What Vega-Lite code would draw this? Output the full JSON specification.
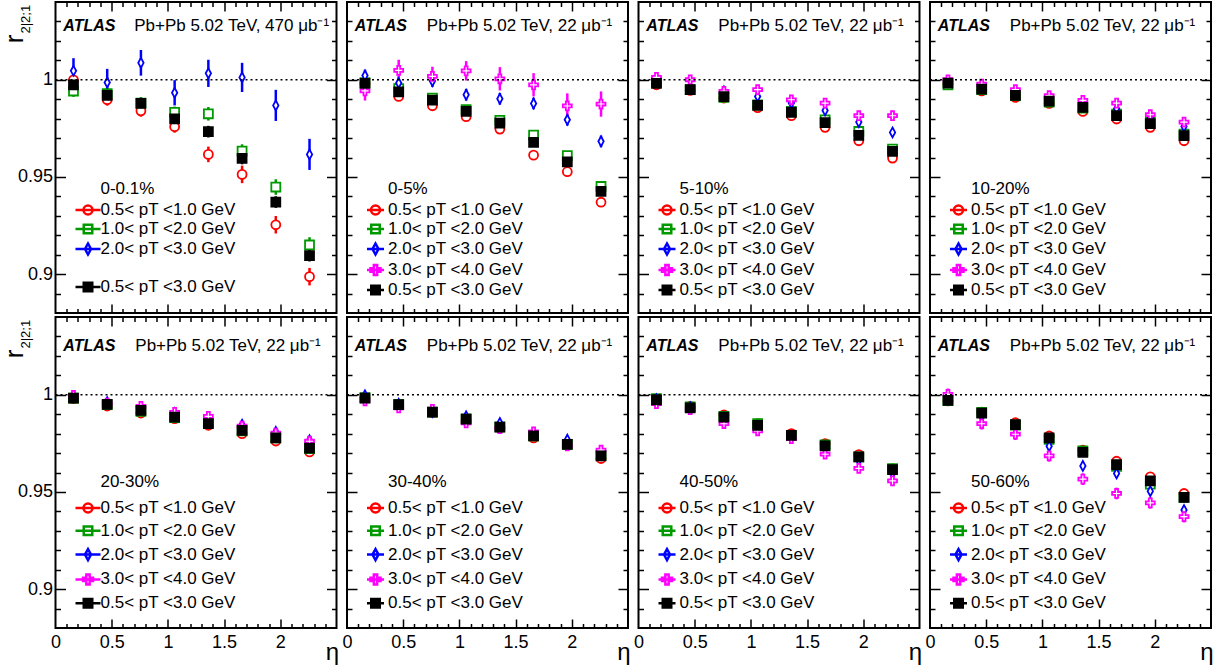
{
"$schema":"https://vega.github.io/schema/vega-lite/v6.json",
"background":"white",
"padding":{"left":0.5,"top":0,"right":5,"bottom":2},
"bounds":"flush",
"columns":4,
"spacing":{"row":4,"column":10.5},
"data":{"values":[
{"c":"p1","s":"s1","x":0.16,"r":1.0,"e":0.003},{"c":"p1","s":"s1","x":0.46,"r":0.9897,"e":0.003},{"c":"p1","s":"s1","x":0.76,"r":0.984,"e":0.003},{"c":"p1","s":"s1","x":1.06,"r":0.9758,"e":0.003},{"c":"p1","s":"s1","x":1.36,"r":0.9616,"e":0.004},{"c":"p1","s":"s1","x":1.66,"r":0.9513,"e":0.0045},{"c":"p1","s":"s1","x":1.96,"r":0.9254,"e":0.0045},{"c":"p1","s":"s1","x":2.26,"r":0.8987,"e":0.0045},
{"c":"p1","s":"s2","x":0.16,"r":0.9942,"e":0.003},{"c":"p1","s":"s2","x":0.46,"r":0.9928,"e":0.003},{"c":"p1","s":"s2","x":0.76,"r":0.988,"e":0.003},{"c":"p1","s":"s2","x":1.06,"r":0.9832,"e":0.003},{"c":"p1","s":"s2","x":1.36,"r":0.9825,"e":0.0035},{"c":"p1","s":"s2","x":1.66,"r":0.9633,"e":0.0035},{"c":"p1","s":"s2","x":1.96,"r":0.9448,"e":0.004},{"c":"p1","s":"s2","x":2.26,"r":0.915,"e":0.004},
{"c":"p1","s":"s3","x":0.16,"r":1.0046,"e":0.0065},{"c":"p1","s":"s3","x":0.46,"r":0.9986,"e":0.007},{"c":"p1","s":"s3","x":0.76,"r":1.0087,"e":0.0066},{"c":"p1","s":"s3","x":1.06,"r":0.9933,"e":0.0065},{"c":"p1","s":"s3","x":1.36,"r":1.0033,"e":0.007},{"c":"p1","s":"s3","x":1.66,"r":1.0012,"e":0.0075},{"c":"p1","s":"s3","x":1.96,"r":0.9868,"e":0.008},{"c":"p1","s":"s3","x":2.26,"r":0.9616,"e":0.008},
{"c":"p1","s":"s5","x":0.16,"r":0.9974,"e":0.003},{"c":"p1","s":"s5","x":0.46,"r":0.9919,"e":0.003},{"c":"p1","s":"s5","x":0.76,"r":0.9878,"e":0.003},{"c":"p1","s":"s5","x":1.06,"r":0.9799,"e":0.003},{"c":"p1","s":"s5","x":1.36,"r":0.9733,"e":0.003},{"c":"p1","s":"s5","x":1.66,"r":0.9595,"e":0.003},{"c":"p1","s":"s5","x":1.96,"r":0.9371,"e":0.003},{"c":"p1","s":"s5","x":2.26,"r":0.9095,"e":0.003},
{"c":"p2","s":"s1","x":0.16,"r":0.998,"e":0.001},{"c":"p2","s":"s1","x":0.46,"r":0.9914,"e":0.001},{"c":"p2","s":"s1","x":0.76,"r":0.9866,"e":0.001},{"c":"p2","s":"s1","x":1.06,"r":0.981,"e":0.001},{"c":"p2","s":"s1","x":1.36,"r":0.9746,"e":0.001},{"c":"p2","s":"s1","x":1.66,"r":0.9612,"e":0.001},{"c":"p2","s":"s1","x":1.96,"r":0.9527,"e":0.001},{"c":"p2","s":"s1","x":2.26,"r":0.937,"e":0.001},
{"c":"p2","s":"s2","x":0.16,"r":0.9985,"e":0.001},{"c":"p2","s":"s2","x":0.46,"r":0.9954,"e":0.001},{"c":"p2","s":"s2","x":0.76,"r":0.9906,"e":0.001},{"c":"p2","s":"s2","x":1.06,"r":0.9846,"e":0.001},{"c":"p2","s":"s2","x":1.36,"r":0.9791,"e":0.001},{"c":"p2","s":"s2","x":1.66,"r":0.9715,"e":0.001},{"c":"p2","s":"s2","x":1.96,"r":0.961,"e":0.001},{"c":"p2","s":"s2","x":2.26,"r":0.9451,"e":0.001},
{"c":"p2","s":"s3","x":0.16,"r":1.0022,"e":0.003},{"c":"p2","s":"s3","x":0.46,"r":0.9983,"e":0.003},{"c":"p2","s":"s3","x":0.76,"r":0.9993,"e":0.003},{"c":"p2","s":"s3","x":1.06,"r":0.9923,"e":0.003},{"c":"p2","s":"s3","x":1.36,"r":0.9902,"e":0.003},{"c":"p2","s":"s3","x":1.66,"r":0.9878,"e":0.003},{"c":"p2","s":"s3","x":1.96,"r":0.9794,"e":0.003},{"c":"p2","s":"s3","x":2.26,"r":0.9683,"e":0.003},
{"c":"p2","s":"s4","x":0.16,"r":0.9943,"e":0.005},{"c":"p2","s":"s4","x":0.46,"r":1.0048,"e":0.0055},{"c":"p2","s":"s4","x":0.76,"r":1.0017,"e":0.005},{"c":"p2","s":"s4","x":1.06,"r":1.0046,"e":0.005},{"c":"p2","s":"s4","x":1.36,"r":1.0005,"e":0.006},{"c":"p2","s":"s4","x":1.66,"r":0.9974,"e":0.006},{"c":"p2","s":"s4","x":1.96,"r":0.9865,"e":0.0065},{"c":"p2","s":"s4","x":2.26,"r":0.9875,"e":0.0065},
{"c":"p2","s":"s5","x":0.16,"r":0.9981,"e":0.001},{"c":"p2","s":"s5","x":0.46,"r":0.9937,"e":0.001},{"c":"p2","s":"s5","x":0.76,"r":0.9895,"e":0.001},{"c":"p2","s":"s5","x":1.06,"r":0.9837,"e":0.001},{"c":"p2","s":"s5","x":1.36,"r":0.9777,"e":0.001},{"c":"p2","s":"s5","x":1.66,"r":0.9678,"e":0.001},{"c":"p2","s":"s5","x":1.96,"r":0.9578,"e":0.001},{"c":"p2","s":"s5","x":2.26,"r":0.9426,"e":0.001},
{"c":"p3","s":"s1","x":0.16,"r":0.9974,"e":0.0008},{"c":"p3","s":"s1","x":0.46,"r":0.9945,"e":0.0008},{"c":"p3","s":"s1","x":0.76,"r":0.9906,"e":0.0008},{"c":"p3","s":"s1","x":1.06,"r":0.9856,"e":0.0008},{"c":"p3","s":"s1","x":1.36,"r":0.9815,"e":0.0008},{"c":"p3","s":"s1","x":1.66,"r":0.9755,"e":0.0008},{"c":"p3","s":"s1","x":1.96,"r":0.9686,"e":0.0008},{"c":"p3","s":"s1","x":2.26,"r":0.9597,"e":0.0008},
{"c":"p3","s":"s2","x":0.16,"r":0.9986,"e":0.0008},{"c":"p3","s":"s2","x":0.46,"r":0.9949,"e":0.0008},{"c":"p3","s":"s2","x":0.76,"r":0.9909,"e":0.0008},{"c":"p3","s":"s2","x":1.06,"r":0.9871,"e":0.0008},{"c":"p3","s":"s2","x":1.36,"r":0.9837,"e":0.0008},{"c":"p3","s":"s2","x":1.66,"r":0.9794,"e":0.0008},{"c":"p3","s":"s2","x":1.96,"r":0.9734,"e":0.0008},{"c":"p3","s":"s2","x":2.26,"r":0.9643,"e":0.0008},
{"c":"p3","s":"s3","x":0.16,"r":0.9991,"e":0.0015},{"c":"p3","s":"s3","x":0.46,"r":0.996,"e":0.0015},{"c":"p3","s":"s3","x":0.76,"r":0.994,"e":0.0015},{"c":"p3","s":"s3","x":1.06,"r":0.9914,"e":0.0015},{"c":"p3","s":"s3","x":1.36,"r":0.988,"e":0.0015},{"c":"p3","s":"s3","x":1.66,"r":0.9842,"e":0.0015},{"c":"p3","s":"s3","x":1.96,"r":0.9782,"e":0.0015},{"c":"p3","s":"s3","x":2.26,"r":0.9729,"e":0.0015},
{"c":"p3","s":"s4","x":0.16,"r":1.0012,"e":0.0025},{"c":"p3","s":"s4","x":0.46,"r":1.0,"e":0.0025},{"c":"p3","s":"s4","x":0.76,"r":0.994,"e":0.0025},{"c":"p3","s":"s4","x":1.06,"r":0.9949,"e":0.0025},{"c":"p3","s":"s4","x":1.36,"r":0.9897,"e":0.0025},{"c":"p3","s":"s4","x":1.66,"r":0.988,"e":0.0025},{"c":"p3","s":"s4","x":1.96,"r":0.9815,"e":0.0025},{"c":"p3","s":"s4","x":2.26,"r":0.9815,"e":0.0025},
{"c":"p3","s":"s5","x":0.16,"r":0.9981,"e":0.0008},{"c":"p3","s":"s5","x":0.46,"r":0.9949,"e":0.0008},{"c":"p3","s":"s5","x":0.76,"r":0.9913,"e":0.0008},{"c":"p3","s":"s5","x":1.06,"r":0.9868,"e":0.0008},{"c":"p3","s":"s5","x":1.36,"r":0.9832,"e":0.0008},{"c":"p3","s":"s5","x":1.66,"r":0.9779,"e":0.0008},{"c":"p3","s":"s5","x":1.96,"r":0.9714,"e":0.0008},{"c":"p3","s":"s5","x":2.26,"r":0.9631,"e":0.0008},
{"c":"p4","s":"s1","x":0.16,"r":0.9978,"e":0.0008},{"c":"p4","s":"s1","x":0.46,"r":0.9943,"e":0.0008},{"c":"p4","s":"s1","x":0.76,"r":0.9909,"e":0.0008},{"c":"p4","s":"s1","x":1.06,"r":0.9878,"e":0.0008},{"c":"p4","s":"s1","x":1.36,"r":0.9837,"e":0.0008},{"c":"p4","s":"s1","x":1.66,"r":0.9798,"e":0.0008},{"c":"p4","s":"s1","x":1.96,"r":0.9755,"e":0.0008},{"c":"p4","s":"s1","x":2.26,"r":0.9686,"e":0.0008},
{"c":"p4","s":"s2","x":0.16,"r":0.9974,"e":0.0008},{"c":"p4","s":"s2","x":0.46,"r":0.9949,"e":0.0008},{"c":"p4","s":"s2","x":0.76,"r":0.9918,"e":0.0008},{"c":"p4","s":"s2","x":1.06,"r":0.9885,"e":0.0008},{"c":"p4","s":"s2","x":1.36,"r":0.9854,"e":0.0008},{"c":"p4","s":"s2","x":1.66,"r":0.9823,"e":0.0008},{"c":"p4","s":"s2","x":1.96,"r":0.9782,"e":0.0008},{"c":"p4","s":"s2","x":2.26,"r":0.972,"e":0.0008},
{"c":"p4","s":"s3","x":0.16,"r":0.9991,"e":0.0012},{"c":"p4","s":"s3","x":0.46,"r":0.9971,"e":0.0012},{"c":"p4","s":"s3","x":0.76,"r":0.9937,"e":0.0012},{"c":"p4","s":"s3","x":1.06,"r":0.9906,"e":0.0012},{"c":"p4","s":"s3","x":1.36,"r":0.988,"e":0.0012},{"c":"p4","s":"s3","x":1.66,"r":0.9851,"e":0.0012},{"c":"p4","s":"s3","x":1.96,"r":0.9803,"e":0.0012},{"c":"p4","s":"s3","x":2.26,"r":0.976,"e":0.0012},
{"c":"p4","s":"s4","x":0.16,"r":1.0,"e":0.002},{"c":"p4","s":"s4","x":0.46,"r":0.9978,"e":0.002},{"c":"p4","s":"s4","x":0.76,"r":0.9949,"e":0.002},{"c":"p4","s":"s4","x":1.06,"r":0.9918,"e":0.002},{"c":"p4","s":"s4","x":1.36,"r":0.9894,"e":0.002},{"c":"p4","s":"s4","x":1.66,"r":0.988,"e":0.002},{"c":"p4","s":"s4","x":1.96,"r":0.982,"e":0.002},{"c":"p4","s":"s4","x":2.26,"r":0.9782,"e":0.002},
{"c":"p4","s":"s5","x":0.16,"r":0.9983,"e":0.0008},{"c":"p4","s":"s5","x":0.46,"r":0.9952,"e":0.0008},{"c":"p4","s":"s5","x":0.76,"r":0.9919,"e":0.0008},{"c":"p4","s":"s5","x":1.06,"r":0.989,"e":0.0008},{"c":"p4","s":"s5","x":1.36,"r":0.9858,"e":0.0008},{"c":"p4","s":"s5","x":1.66,"r":0.9815,"e":0.0008},{"c":"p4","s":"s5","x":1.96,"r":0.9774,"e":0.0008},{"c":"p4","s":"s5","x":2.26,"r":0.9712,"e":0.0008},
{"c":"p5","s":"s1","x":0.16,"r":0.998,"e":0.0008},{"c":"p5","s":"s1","x":0.46,"r":0.9942,"e":0.0008},{"c":"p5","s":"s1","x":0.76,"r":0.9906,"e":0.0008},{"c":"p5","s":"s1","x":1.06,"r":0.9877,"e":0.0008},{"c":"p5","s":"s1","x":1.36,"r":0.9843,"e":0.0008},{"c":"p5","s":"s1","x":1.66,"r":0.98,"e":0.0008},{"c":"p5","s":"s1","x":1.96,"r":0.9762,"e":0.0008},{"c":"p5","s":"s1","x":2.26,"r":0.9706,"e":0.0008},
{"c":"p5","s":"s2","x":0.16,"r":0.9983,"e":0.0008},{"c":"p5","s":"s2","x":0.46,"r":0.9949,"e":0.0008},{"c":"p5","s":"s2","x":0.76,"r":0.9915,"e":0.0008},{"c":"p5","s":"s2","x":1.06,"r":0.9882,"e":0.0008},{"c":"p5","s":"s2","x":1.36,"r":0.9851,"e":0.0008},{"c":"p5","s":"s2","x":1.66,"r":0.9814,"e":0.0008},{"c":"p5","s":"s2","x":1.96,"r":0.9778,"e":0.0008},{"c":"p5","s":"s2","x":2.26,"r":0.9723,"e":0.0008},
{"c":"p5","s":"s3","x":0.16,"r":0.9991,"e":0.0012},{"c":"p5","s":"s3","x":0.46,"r":0.9962,"e":0.0012},{"c":"p5","s":"s3","x":0.76,"r":0.9932,"e":0.0012},{"c":"p5","s":"s3","x":1.06,"r":0.9906,"e":0.0012},{"c":"p5","s":"s3","x":1.36,"r":0.988,"e":0.0012},{"c":"p5","s":"s3","x":1.66,"r":0.9846,"e":0.0012},{"c":"p5","s":"s3","x":1.96,"r":0.9809,"e":0.0012},{"c":"p5","s":"s3","x":2.26,"r":0.9766,"e":0.0012},
{"c":"p5","s":"s4","x":0.16,"r":0.9997,"e":0.002},{"c":"p5","s":"s4","x":0.46,"r":0.9957,"e":0.002},{"c":"p5","s":"s4","x":0.76,"r":0.994,"e":0.002},{"c":"p5","s":"s4","x":1.06,"r":0.9909,"e":0.002},{"c":"p5","s":"s4","x":1.36,"r":0.9889,"e":0.002},{"c":"p5","s":"s4","x":1.66,"r":0.9838,"e":0.002},{"c":"p5","s":"s4","x":1.96,"r":0.9803,"e":0.002},{"c":"p5","s":"s4","x":2.26,"r":0.9761,"e":0.002},
{"c":"p5","s":"s5","x":0.16,"r":0.9983,"e":0.0008},{"c":"p5","s":"s5","x":0.46,"r":0.995,"e":0.0008},{"c":"p5","s":"s5","x":0.76,"r":0.992,"e":0.0008},{"c":"p5","s":"s5","x":1.06,"r":0.9885,"e":0.0008},{"c":"p5","s":"s5","x":1.36,"r":0.9851,"e":0.0008},{"c":"p5","s":"s5","x":1.66,"r":0.9817,"e":0.0008},{"c":"p5","s":"s5","x":1.96,"r":0.9778,"e":0.0008},{"c":"p5","s":"s5","x":2.26,"r":0.9726,"e":0.0008},
{"c":"p6","s":"s1","x":0.16,"r":0.9985,"e":0.0008},{"c":"p6","s":"s1","x":0.46,"r":0.9945,"e":0.0008},{"c":"p6","s":"s1","x":0.76,"r":0.9909,"e":0.0008},{"c":"p6","s":"s1","x":1.06,"r":0.9868,"e":0.0008},{"c":"p6","s":"s1","x":1.36,"r":0.9829,"e":0.0008},{"c":"p6","s":"s1","x":1.66,"r":0.9778,"e":0.0008},{"c":"p6","s":"s1","x":1.96,"r":0.9744,"e":0.0008},{"c":"p6","s":"s1","x":2.26,"r":0.9672,"e":0.0008},
{"c":"p6","s":"s2","x":0.16,"r":0.9985,"e":0.0008},{"c":"p6","s":"s2","x":0.46,"r":0.995,"e":0.0008},{"c":"p6","s":"s2","x":0.76,"r":0.991,"e":0.0008},{"c":"p6","s":"s2","x":1.06,"r":0.9876,"e":0.0008},{"c":"p6","s":"s2","x":1.36,"r":0.9835,"e":0.0008},{"c":"p6","s":"s2","x":1.66,"r":0.9788,"e":0.0008},{"c":"p6","s":"s2","x":1.96,"r":0.9745,"e":0.0008},{"c":"p6","s":"s2","x":2.26,"r":0.9688,"e":0.0008},
{"c":"p6","s":"s3","x":0.16,"r":0.9997,"e":0.0012},{"c":"p6","s":"s3","x":0.46,"r":0.9953,"e":0.0012},{"c":"p6","s":"s3","x":0.76,"r":0.9912,"e":0.0012},{"c":"p6","s":"s3","x":1.06,"r":0.9889,"e":0.0012},{"c":"p6","s":"s3","x":1.36,"r":0.9855,"e":0.0012},{"c":"p6","s":"s3","x":1.66,"r":0.9795,"e":0.0012},{"c":"p6","s":"s3","x":1.96,"r":0.9769,"e":0.0012},{"c":"p6","s":"s3","x":2.26,"r":0.969,"e":0.0012},
{"c":"p6","s":"s4","x":0.16,"r":0.9968,"e":0.002},{"c":"p6","s":"s4","x":0.46,"r":0.9932,"e":0.002},{"c":"p6","s":"s4","x":0.76,"r":0.9925,"e":0.002},{"c":"p6","s":"s4","x":1.06,"r":0.9855,"e":0.002},{"c":"p6","s":"s4","x":1.36,"r":0.9826,"e":0.002},{"c":"p6","s":"s4","x":1.66,"r":0.9809,"e":0.002},{"c":"p6","s":"s4","x":1.96,"r":0.9737,"e":0.002},{"c":"p6","s":"s4","x":2.26,"r":0.9715,"e":0.002},
{"c":"p6","s":"s5","x":0.16,"r":0.9983,"e":0.0008},{"c":"p6","s":"s5","x":0.46,"r":0.9949,"e":0.0008},{"c":"p6","s":"s5","x":0.76,"r":0.9911,"e":0.0008},{"c":"p6","s":"s5","x":1.06,"r":0.9874,"e":0.0008},{"c":"p6","s":"s5","x":1.36,"r":0.9834,"e":0.0008},{"c":"p6","s":"s5","x":1.66,"r":0.9788,"e":0.0008},{"c":"p6","s":"s5","x":1.96,"r":0.9745,"e":0.0008},{"c":"p6","s":"s5","x":2.26,"r":0.9685,"e":0.0008},
{"c":"p7","s":"s1","x":0.16,"r":0.9974,"e":0.0008},{"c":"p7","s":"s1","x":0.46,"r":0.994,"e":0.0008},{"c":"p7","s":"s1","x":0.76,"r":0.9897,"e":0.0008},{"c":"p7","s":"s1","x":1.06,"r":0.9851,"e":0.0008},{"c":"p7","s":"s1","x":1.36,"r":0.98,"e":0.0008},{"c":"p7","s":"s1","x":1.66,"r":0.9749,"e":0.0008},{"c":"p7","s":"s1","x":1.96,"r":0.9692,"e":0.0008},{"c":"p7","s":"s1","x":2.26,"r":0.9619,"e":0.0008},
{"c":"p7","s":"s2","x":0.16,"r":0.998,"e":0.0008},{"c":"p7","s":"s2","x":0.46,"r":0.9937,"e":0.0008},{"c":"p7","s":"s2","x":0.76,"r":0.9889,"e":0.0008},{"c":"p7","s":"s2","x":1.06,"r":0.9851,"e":0.0008},{"c":"p7","s":"s2","x":1.36,"r":0.9791,"e":0.0008},{"c":"p7","s":"s2","x":1.66,"r":0.9742,"e":0.0008},{"c":"p7","s":"s2","x":1.96,"r":0.968,"e":0.0008},{"c":"p7","s":"s2","x":2.26,"r":0.962,"e":0.0008},
{"c":"p7","s":"s3","x":0.16,"r":0.9976,"e":0.0012},{"c":"p7","s":"s3","x":0.46,"r":0.9935,"e":0.0012},{"c":"p7","s":"s3","x":0.76,"r":0.9882,"e":0.0012},{"c":"p7","s":"s3","x":1.06,"r":0.9834,"e":0.0012},{"c":"p7","s":"s3","x":1.36,"r":0.9783,"e":0.0012},{"c":"p7","s":"s3","x":1.66,"r":0.9732,"e":0.0012},{"c":"p7","s":"s3","x":1.96,"r":0.9663,"e":0.0012},{"c":"p7","s":"s3","x":2.26,"r":0.9595,"e":0.0012},
{"c":"p7","s":"s4","x":0.16,"r":0.9954,"e":0.002},{"c":"p7","s":"s4","x":0.46,"r":0.9923,"e":0.002},{"c":"p7","s":"s4","x":0.76,"r":0.9851,"e":0.002},{"c":"p7","s":"s4","x":1.06,"r":0.9814,"e":0.002},{"c":"p7","s":"s4","x":1.36,"r":0.9774,"e":0.002},{"c":"p7","s":"s4","x":1.66,"r":0.9694,"e":0.002},{"c":"p7","s":"s4","x":1.96,"r":0.9621,"e":0.002},{"c":"p7","s":"s4","x":2.26,"r":0.9557,"e":0.002},
{"c":"p7","s":"s5","x":0.16,"r":0.9974,"e":0.0008},{"c":"p7","s":"s5","x":0.46,"r":0.9933,"e":0.0008},{"c":"p7","s":"s5","x":0.76,"r":0.9885,"e":0.0008},{"c":"p7","s":"s5","x":1.06,"r":0.9843,"e":0.0008},{"c":"p7","s":"s5","x":1.36,"r":0.9791,"e":0.0008},{"c":"p7","s":"s5","x":1.66,"r":0.9737,"e":0.0008},{"c":"p7","s":"s5","x":1.96,"r":0.968,"e":0.0008},{"c":"p7","s":"s5","x":2.26,"r":0.9615,"e":0.0008},
{"c":"p8","s":"s1","x":0.16,"r":0.9968,"e":0.001},{"c":"p8","s":"s1","x":0.46,"r":0.9911,"e":0.001},{"c":"p8","s":"s1","x":0.76,"r":0.9856,"e":0.001},{"c":"p8","s":"s1","x":1.06,"r":0.9788,"e":0.001},{"c":"p8","s":"s1","x":1.36,"r":0.9715,"e":0.001},{"c":"p8","s":"s1","x":1.66,"r":0.9658,"e":0.001},{"c":"p8","s":"s1","x":1.96,"r":0.9578,"e":0.001},{"c":"p8","s":"s1","x":2.26,"r":0.9492,"e":0.001},
{"c":"p8","s":"s2","x":0.16,"r":0.997,"e":0.001},{"c":"p8","s":"s2","x":0.46,"r":0.9909,"e":0.001},{"c":"p8","s":"s2","x":0.76,"r":0.9844,"e":0.001},{"c":"p8","s":"s2","x":1.06,"r":0.9771,"e":0.001},{"c":"p8","s":"s2","x":1.36,"r":0.9711,"e":0.001},{"c":"p8","s":"s2","x":1.66,"r":0.9632,"e":0.001},{"c":"p8","s":"s2","x":1.96,"r":0.954,"e":0.001},{"c":"p8","s":"s2","x":2.26,"r":0.9472,"e":0.001},
{"c":"p8","s":"s3","x":0.16,"r":0.9991,"e":0.002},{"c":"p8","s":"s3","x":0.46,"r":0.9889,"e":0.002},{"c":"p8","s":"s3","x":0.76,"r":0.9834,"e":0.002},{"c":"p8","s":"s3","x":1.06,"r":0.9735,"e":0.002},{"c":"p8","s":"s3","x":1.36,"r":0.9634,"e":0.002},{"c":"p8","s":"s3","x":1.66,"r":0.9595,"e":0.002},{"c":"p8","s":"s3","x":1.96,"r":0.9504,"e":0.002},{"c":"p8","s":"s3","x":2.26,"r":0.9407,"e":0.002},
{"c":"p8","s":"s4","x":0.16,"r":1.0002,"e":0.003},{"c":"p8","s":"s4","x":0.46,"r":0.9851,"e":0.003},{"c":"p8","s":"s4","x":0.76,"r":0.9797,"e":0.003},{"c":"p8","s":"s4","x":1.06,"r":0.9686,"e":0.003},{"c":"p8","s":"s4","x":1.36,"r":0.9566,"e":0.003},{"c":"p8","s":"s4","x":1.66,"r":0.9492,"e":0.003},{"c":"p8","s":"s4","x":1.96,"r":0.9444,"e":0.003},{"c":"p8","s":"s4","x":2.26,"r":0.9373,"e":0.003},
{"c":"p8","s":"s5","x":0.16,"r":0.9971,"e":0.001},{"c":"p8","s":"s5","x":0.46,"r":0.9906,"e":0.001},{"c":"p8","s":"s5","x":0.76,"r":0.9846,"e":0.001},{"c":"p8","s":"s5","x":1.06,"r":0.9778,"e":0.001},{"c":"p8","s":"s5","x":1.36,"r":0.9703,"e":0.001},{"c":"p8","s":"s5","x":1.66,"r":0.9641,"e":0.001},{"c":"p8","s":"s5","x":1.96,"r":0.9557,"e":0.001},{"c":"p8","s":"s5","x":2.26,"r":0.9472,"e":0.001}
]},
"resolve":{"scale":{"x":"independent","y":"independent","color":"independent","shape":"independent","stroke":"independent","fill":"independent"}},
"concat":[
{"width":281,"height":311,"transform":[{"filter":"datum.c=='p1'"}],
 "resolve":{"scale":{"shape":"independent","stroke":"independent","fill":"independent"},"axis":{"x":"independent","y":"independent"}},
 "layer":[
  {"mark":{"type":"errorbar","thickness":2.5},"encoding":{"x":{"field":"x","type":"quantitative","scale":{"domain":[0,2.5],"nice":false,"zero":false},"axis":null},"y":{"field":"r","type":"quantitative","scale":{"domain":[0.88,1.04],"nice":false,"zero":false},"axis":null},"yError":{"field":"e"},"color":{"field":"s","type":"nominal","scale":{"domain":["s1","s2","s3","s4","s5"],"range":["#ff0000","#009a00","#0000ff","#ff00ff","#000000"]},"legend":null}}},
  {"mark":{"type":"point","size":80,"strokeWidth":1.8,"opacity":1},"encoding":{"x":{"field":"x","type":"quantitative","axis":null},"y":{"field":"r","type":"quantitative","axis":{"orient":"left","values":[0.9,0.95,1],"format":"~g","ticks":false,"domain":false,"grid":false,"labelFontSize":18,"labelPadding":3,"title":"r","titleFontSize":26,"titleFontWeight":"normal","titleAngle":270,"titleAlign":"right","titleBaseline":"alphabetic","titleX":-33,"titleY":32}},"shape":{"field":"s","type":"nominal","scale":{"domain":["s1","s2","s3","s4","s5"],"range":["circle","square","M0,-1.1L0.6,0L0,1.1L-0.6,0Z","M-0.33,-1H0.33V-0.33H1V0.33H0.33V1H-0.33V0.33H-1V-0.33H-0.33Z","square"]},"legend":null},"stroke":{"field":"s","type":"nominal","scale":{"domain":["s1","s2","s3","s4","s5"],"range":["#ff0000","#009a00","#0000ff","#ff00ff","#000000"]},"legend":null},"fill":{"field":"s","type":"nominal","scale":{"domain":["s1","s2","s3","s4","s5"],"range":["#ffffff","#ffffff","#ffffff","#ffffff","#000000"]},"legend":null}}},
  {"data":{"values":[{}]},"mark":{"type":"rule","strokeDash":[2,3],"strokeWidth":1.5,"color":"black"},"encoding":{"x":{"datum":0,"type":"quantitative","axis":{"orient":"bottom","values":[0.5,1,1.5,2],"labels":false,"domain":false,"grid":false,"tickSize":-9,"tickWidth":1.5,"tickColor":"black","title":null}},"x2":{"datum":2.5},"y":{"datum":1,"type":"quantitative","axis":{"orient":"left","values":[0.9,0.95,1],"labels":false,"domain":false,"grid":false,"tickSize":-10,"tickWidth":1.5,"tickColor":"black","title":null}}}},
  {"data":{"values":[{}]},"mark":{"type":"text","text":"ATLAS","fontSize":16,"fontWeight":"bold","fontStyle":"italic","align":"left","baseline":"middle"},"encoding":{"x":{"datum":0.07,"type":"quantitative","axis":{"orient":"bottom","values":[0.1,0.2,0.3,0.4,0.6,0.7,0.8,0.9,1.1,1.2,1.3,1.4,1.6,1.7,1.8,1.9,2.1,2.2,2.3,2.4],"labels":false,"domain":false,"grid":false,"tickSize":-4.5,"tickWidth":1.5,"tickColor":"black","title":null}},"y":{"datum":1.0275,"type":"quantitative","axis":{"orient":"left","values":[0.89,0.91,0.92,0.93,0.94,0.96,0.97,0.98,0.99,1.01,1.02,1.03],"labels":false,"domain":false,"grid":false,"tickSize":-5,"tickWidth":1.5,"tickColor":"black","title":"2|2;1","titleFontSize":13,"titleFontWeight":"normal","titleAngle":270,"titleAlign":"left","titleBaseline":"alphabetic","titleX":-26,"titleY":31}}}},
  {"data":{"values":[{}]},"mark":{"type":"text","text":"Pb+Pb 5.02 TeV, 470 μb⁻¹","fontSize":17,"align":"left","baseline":"middle"},"encoding":{"x":{"datum":0.7,"type":"quantitative","axis":{"orient":"top","values":[0.5,1,1.5,2],"labels":false,"domain":false,"grid":false,"tickSize":-9,"tickWidth":1.5,"tickColor":"black","title":null}},"y":{"datum":1.0275,"type":"quantitative","axis":{"orient":"right","values":[0.9,0.95,1],"labels":false,"domain":false,"grid":false,"tickSize":-10,"tickWidth":1.5,"tickColor":"black","title":null}}}},
  {"data":{"values":[{}]},"mark":{"type":"text","text":"0-0.1%","fontSize":17,"align":"left","baseline":"middle"},"encoding":{"x":{"datum":0.4,"type":"quantitative","axis":{"orient":"top","values":[0.1,0.2,0.3,0.4,0.6,0.7,0.8,0.9,1.1,1.2,1.3,1.4,1.6,1.7,1.8,1.9,2.1,2.2,2.3,2.4],"labels":false,"domain":false,"grid":false,"tickSize":-4.5,"tickWidth":1.5,"tickColor":"black","title":null}},"y":{"datum":0.9436,"type":"quantitative","axis":{"orient":"right","values":[0.89,0.91,0.92,0.93,0.94,0.96,0.97,0.98,0.99,1.01,1.02,1.03],"labels":false,"domain":false,"grid":false,"tickSize":-5,"tickWidth":1.5,"tickColor":"black","title":null}}}},
  {"data":{"values":[]},"mark":{"type":"point","size":100,"strokeWidth":2.5,"opacity":1},"encoding":{
    "shape":{"field":"s","type":"nominal","scale":{"domain":["s1","s2","s3","s4","s5"],"range":["M-2.5,0H2.5M0.9,0A0.9,0.9,0,1,1,-0.9,0A0.9,0.9,0,1,1,0.9,0Z","M-2.5,0H2.5M-0.85,-0.85H0.85V0.85H-0.85Z","M-2.5,0H2.5M0,-1.1L0.6,0L0,1.1L-0.6,0Z","M0,0","M-2.5,0H2.5M-0.85,-0.85H0.85V0.85H-0.85Z"]},"legend":{"orient":"none","legendX":18,"legendY":199.5,"title":null,"labelExpr":"datum.label=='s1'?'0.5< pT <1.0 GeV':datum.label=='s2'?'1.0< pT <2.0 GeV':datum.label=='s3'?'2.0< pT <3.0 GeV':datum.label=='s4'?'':'0.5< pT <3.0 GeV'","labelFontSize":17,"labelColor":"black","labelLimit":300,"symbolSize":100,"symbolStrokeWidth":2.5,"symbolOffset":6,"labelOffset":4,"rowPadding":0}},
    "stroke":{"field":"s","type":"nominal","scale":{"domain":["s1","s2","s3","s4","s5"],"range":["#ff0000","#009a00","#0000ff","transparent","#000000"]}},
    "fill":{"field":"s","type":"nominal","scale":{"domain":["s1","s2","s3","s4","s5"],"range":["#ffffff","#ffffff","#ffffff","transparent","#000000"]}}}}
 ]},
{"width":281,"height":311,"transform":[{"filter":"datum.c=='p2'"}],
 "resolve":{"scale":{"shape":"independent","stroke":"independent","fill":"independent"},"axis":{"x":"independent","y":"independent"}},
 "layer":[
  {"mark":{"type":"errorbar","thickness":2.5},"encoding":{"x":{"field":"x","type":"quantitative","scale":{"domain":[0,2.5],"nice":false,"zero":false},"axis":null},"y":{"field":"r","type":"quantitative","scale":{"domain":[0.88,1.04],"nice":false,"zero":false},"axis":null},"yError":{"field":"e"},"color":{"field":"s","type":"nominal","scale":{"domain":["s1","s2","s3","s4","s5"],"range":["#ff0000","#009a00","#0000ff","#ff00ff","#000000"]},"legend":null}}},
  {"mark":{"type":"point","size":80,"strokeWidth":1.8,"opacity":1},"encoding":{"x":{"field":"x","type":"quantitative","axis":null},"y":{"field":"r","type":"quantitative","axis":null},"shape":{"field":"s","type":"nominal","scale":{"domain":["s1","s2","s3","s4","s5"],"range":["circle","square","M0,-1.1L0.6,0L0,1.1L-0.6,0Z","M-0.33,-1H0.33V-0.33H1V0.33H0.33V1H-0.33V0.33H-1V-0.33H-0.33Z","square"]},"legend":null},"stroke":{"field":"s","type":"nominal","scale":{"domain":["s1","s2","s3","s4","s5"],"range":["#ff0000","#009a00","#0000ff","#ff00ff","#000000"]},"legend":null},"fill":{"field":"s","type":"nominal","scale":{"domain":["s1","s2","s3","s4","s5"],"range":["#ffffff","#ffffff","#ffffff","#ffffff","#000000"]},"legend":null}}},
  {"data":{"values":[{}]},"mark":{"type":"rule","strokeDash":[2,3],"strokeWidth":1.5,"color":"black"},"encoding":{"x":{"datum":0,"type":"quantitative","axis":{"orient":"bottom","values":[0.5,1,1.5,2],"labels":false,"domain":false,"grid":false,"tickSize":-9,"tickWidth":1.5,"tickColor":"black","title":null}},"x2":{"datum":2.5},"y":{"datum":1,"type":"quantitative","axis":{"orient":"left","values":[0.9,0.95,1],"labels":false,"domain":false,"grid":false,"tickSize":-10,"tickWidth":1.5,"tickColor":"black","title":null}}}},
  {"data":{"values":[{}]},"mark":{"type":"text","text":"ATLAS","fontSize":16,"fontWeight":"bold","fontStyle":"italic","align":"left","baseline":"middle"},"encoding":{"x":{"datum":0.07,"type":"quantitative","axis":{"orient":"bottom","values":[0.1,0.2,0.3,0.4,0.6,0.7,0.8,0.9,1.1,1.2,1.3,1.4,1.6,1.7,1.8,1.9,2.1,2.2,2.3,2.4],"labels":false,"domain":false,"grid":false,"tickSize":-4.5,"tickWidth":1.5,"tickColor":"black","title":null}},"y":{"datum":1.0275,"type":"quantitative","axis":{"orient":"left","values":[0.89,0.91,0.92,0.93,0.94,0.96,0.97,0.98,0.99,1.01,1.02,1.03],"labels":false,"domain":false,"grid":false,"tickSize":-5,"tickWidth":1.5,"tickColor":"black","title":null}}}},
  {"data":{"values":[{}]},"mark":{"type":"text","text":"Pb+Pb 5.02 TeV, 22 μb⁻¹","fontSize":17,"align":"left","baseline":"middle"},"encoding":{"x":{"datum":0.71,"type":"quantitative","axis":{"orient":"top","values":[0.5,1,1.5,2],"labels":false,"domain":false,"grid":false,"tickSize":-9,"tickWidth":1.5,"tickColor":"black","title":null}},"y":{"datum":1.0275,"type":"quantitative","axis":{"orient":"right","values":[0.9,0.95,1],"labels":false,"domain":false,"grid":false,"tickSize":-10,"tickWidth":1.5,"tickColor":"black","title":null}}}},
  {"data":{"values":[{}]},"mark":{"type":"text","text":"0-5%","fontSize":17,"align":"left","baseline":"middle"},"encoding":{"x":{"datum":0.365,"type":"quantitative","axis":{"orient":"top","values":[0.1,0.2,0.3,0.4,0.6,0.7,0.8,0.9,1.1,1.2,1.3,1.4,1.6,1.7,1.8,1.9,2.1,2.2,2.3,2.4],"labels":false,"domain":false,"grid":false,"tickSize":-4.5,"tickWidth":1.5,"tickColor":"black","title":null}},"y":{"datum":0.9436,"type":"quantitative","axis":{"orient":"right","values":[0.89,0.91,0.92,0.93,0.94,0.96,0.97,0.98,0.99,1.01,1.02,1.03],"labels":false,"domain":false,"grid":false,"tickSize":-5,"tickWidth":1.5,"tickColor":"black","title":null}}}},
  {"data":{"values":[]},"mark":{"type":"point","size":100,"strokeWidth":2.5,"opacity":1},"encoding":{
    "shape":{"field":"s","type":"nominal","scale":{"domain":["s1","s2","s3","s4","s5"],"range":["M-1.7,0H1.7M0.9,0A0.9,0.9,0,1,1,-0.9,0A0.9,0.9,0,1,1,0.9,0Z","M-1.7,0H1.7M-0.85,-0.85H0.85V0.85H-0.85Z","M-1.7,0H1.7M0,-1.1L0.6,0L0,1.1L-0.6,0Z","M-1.7,0H1.7M-0.33,-1H0.33V-0.33H1V0.33H0.33V1H-0.33V0.33H-1V-0.33H-0.33Z","M-1.7,0H1.7M-0.85,-0.85H0.85V0.85H-0.85Z"]},"legend":{"orient":"none","legendX":18,"legendY":199.5,"title":null,"labelExpr":"datum.label=='s1'?'0.5< pT <1.0 GeV':datum.label=='s2'?'1.0< pT <2.0 GeV':datum.label=='s3'?'2.0< pT <3.0 GeV':datum.label=='s4'?'3.0< pT <4.0 GeV':'0.5< pT <3.0 GeV'","labelFontSize":17,"labelColor":"black","labelLimit":300,"symbolSize":100,"symbolStrokeWidth":2.5,"symbolOffset":2,"labelOffset":4,"rowPadding":0}},
    "stroke":{"field":"s","type":"nominal","scale":{"domain":["s1","s2","s3","s4","s5"],"range":["#ff0000","#009a00","#0000ff","#ff00ff","#000000"]}},
    "fill":{"field":"s","type":"nominal","scale":{"domain":["s1","s2","s3","s4","s5"],"range":["#ffffff","#ffffff","#ffffff","#ffffff","#000000"]}}}}
 ]},
{"width":281,"height":311,"transform":[{"filter":"datum.c=='p3'"}],
 "resolve":{"scale":{"shape":"independent","stroke":"independent","fill":"independent"},"axis":{"x":"independent","y":"independent"}},
 "layer":[
  {"mark":{"type":"errorbar","thickness":2.5},"encoding":{"x":{"field":"x","type":"quantitative","scale":{"domain":[0,2.5],"nice":false,"zero":false},"axis":null},"y":{"field":"r","type":"quantitative","scale":{"domain":[0.88,1.04],"nice":false,"zero":false},"axis":null},"yError":{"field":"e"},"color":{"field":"s","type":"nominal","scale":{"domain":["s1","s2","s3","s4","s5"],"range":["#ff0000","#009a00","#0000ff","#ff00ff","#000000"]},"legend":null}}},
  {"mark":{"type":"point","size":80,"strokeWidth":1.8,"opacity":1},"encoding":{"x":{"field":"x","type":"quantitative","axis":null},"y":{"field":"r","type":"quantitative","axis":null},"shape":{"field":"s","type":"nominal","scale":{"domain":["s1","s2","s3","s4","s5"],"range":["circle","square","M0,-1.1L0.6,0L0,1.1L-0.6,0Z","M-0.33,-1H0.33V-0.33H1V0.33H0.33V1H-0.33V0.33H-1V-0.33H-0.33Z","square"]},"legend":null},"stroke":{"field":"s","type":"nominal","scale":{"domain":["s1","s2","s3","s4","s5"],"range":["#ff0000","#009a00","#0000ff","#ff00ff","#000000"]},"legend":null},"fill":{"field":"s","type":"nominal","scale":{"domain":["s1","s2","s3","s4","s5"],"range":["#ffffff","#ffffff","#ffffff","#ffffff","#000000"]},"legend":null}}},
  {"data":{"values":[{}]},"mark":{"type":"rule","strokeDash":[2,3],"strokeWidth":1.5,"color":"black"},"encoding":{"x":{"datum":0,"type":"quantitative","axis":{"orient":"bottom","values":[0.5,1,1.5,2],"labels":false,"domain":false,"grid":false,"tickSize":-9,"tickWidth":1.5,"tickColor":"black","title":null}},"x2":{"datum":2.5},"y":{"datum":1,"type":"quantitative","axis":{"orient":"left","values":[0.9,0.95,1],"labels":false,"domain":false,"grid":false,"tickSize":-10,"tickWidth":1.5,"tickColor":"black","title":null}}}},
  {"data":{"values":[{}]},"mark":{"type":"text","text":"ATLAS","fontSize":16,"fontWeight":"bold","fontStyle":"italic","align":"left","baseline":"middle"},"encoding":{"x":{"datum":0.07,"type":"quantitative","axis":{"orient":"bottom","values":[0.1,0.2,0.3,0.4,0.6,0.7,0.8,0.9,1.1,1.2,1.3,1.4,1.6,1.7,1.8,1.9,2.1,2.2,2.3,2.4],"labels":false,"domain":false,"grid":false,"tickSize":-4.5,"tickWidth":1.5,"tickColor":"black","title":null}},"y":{"datum":1.0275,"type":"quantitative","axis":{"orient":"left","values":[0.89,0.91,0.92,0.93,0.94,0.96,0.97,0.98,0.99,1.01,1.02,1.03],"labels":false,"domain":false,"grid":false,"tickSize":-5,"tickWidth":1.5,"tickColor":"black","title":null}}}},
  {"data":{"values":[{}]},"mark":{"type":"text","text":"Pb+Pb 5.02 TeV, 22 μb⁻¹","fontSize":17,"align":"left","baseline":"middle"},"encoding":{"x":{"datum":0.71,"type":"quantitative","axis":{"orient":"top","values":[0.5,1,1.5,2],"labels":false,"domain":false,"grid":false,"tickSize":-9,"tickWidth":1.5,"tickColor":"black","title":null}},"y":{"datum":1.0275,"type":"quantitative","axis":{"orient":"right","values":[0.9,0.95,1],"labels":false,"domain":false,"grid":false,"tickSize":-10,"tickWidth":1.5,"tickColor":"black","title":null}}}},
  {"data":{"values":[{}]},"mark":{"type":"text","text":"5-10%","fontSize":17,"align":"left","baseline":"middle"},"encoding":{"x":{"datum":0.365,"type":"quantitative","axis":{"orient":"top","values":[0.1,0.2,0.3,0.4,0.6,0.7,0.8,0.9,1.1,1.2,1.3,1.4,1.6,1.7,1.8,1.9,2.1,2.2,2.3,2.4],"labels":false,"domain":false,"grid":false,"tickSize":-4.5,"tickWidth":1.5,"tickColor":"black","title":null}},"y":{"datum":0.9436,"type":"quantitative","axis":{"orient":"right","values":[0.89,0.91,0.92,0.93,0.94,0.96,0.97,0.98,0.99,1.01,1.02,1.03],"labels":false,"domain":false,"grid":false,"tickSize":-5,"tickWidth":1.5,"tickColor":"black","title":null}}}},
  {"data":{"values":[]},"mark":{"type":"point","size":100,"strokeWidth":2.5,"opacity":1},"encoding":{
    "shape":{"field":"s","type":"nominal","scale":{"domain":["s1","s2","s3","s4","s5"],"range":["M-1.7,0H1.7M0.9,0A0.9,0.9,0,1,1,-0.9,0A0.9,0.9,0,1,1,0.9,0Z","M-1.7,0H1.7M-0.85,-0.85H0.85V0.85H-0.85Z","M-1.7,0H1.7M0,-1.1L0.6,0L0,1.1L-0.6,0Z","M-1.7,0H1.7M-0.33,-1H0.33V-0.33H1V0.33H0.33V1H-0.33V0.33H-1V-0.33H-0.33Z","M-1.7,0H1.7M-0.85,-0.85H0.85V0.85H-0.85Z"]},"legend":{"orient":"none","legendX":18,"legendY":199.5,"title":null,"labelExpr":"datum.label=='s1'?'0.5< pT <1.0 GeV':datum.label=='s2'?'1.0< pT <2.0 GeV':datum.label=='s3'?'2.0< pT <3.0 GeV':datum.label=='s4'?'3.0< pT <4.0 GeV':'0.5< pT <3.0 GeV'","labelFontSize":17,"labelColor":"black","labelLimit":300,"symbolSize":100,"symbolStrokeWidth":2.5,"symbolOffset":2,"labelOffset":4,"rowPadding":0}},
    "stroke":{"field":"s","type":"nominal","scale":{"domain":["s1","s2","s3","s4","s5"],"range":["#ff0000","#009a00","#0000ff","#ff00ff","#000000"]}},
    "fill":{"field":"s","type":"nominal","scale":{"domain":["s1","s2","s3","s4","s5"],"range":["#ffffff","#ffffff","#ffffff","#ffffff","#000000"]}}}}
 ]},
{"width":281,"height":311,"transform":[{"filter":"datum.c=='p4'"}],
 "resolve":{"scale":{"shape":"independent","stroke":"independent","fill":"independent"},"axis":{"x":"independent","y":"independent"}},
 "layer":[
  {"mark":{"type":"errorbar","thickness":2.5},"encoding":{"x":{"field":"x","type":"quantitative","scale":{"domain":[0,2.5],"nice":false,"zero":false},"axis":null},"y":{"field":"r","type":"quantitative","scale":{"domain":[0.88,1.04],"nice":false,"zero":false},"axis":null},"yError":{"field":"e"},"color":{"field":"s","type":"nominal","scale":{"domain":["s1","s2","s3","s4","s5"],"range":["#ff0000","#009a00","#0000ff","#ff00ff","#000000"]},"legend":null}}},
  {"mark":{"type":"point","size":80,"strokeWidth":1.8,"opacity":1},"encoding":{"x":{"field":"x","type":"quantitative","axis":null},"y":{"field":"r","type":"quantitative","axis":null},"shape":{"field":"s","type":"nominal","scale":{"domain":["s1","s2","s3","s4","s5"],"range":["circle","square","M0,-1.1L0.6,0L0,1.1L-0.6,0Z","M-0.33,-1H0.33V-0.33H1V0.33H0.33V1H-0.33V0.33H-1V-0.33H-0.33Z","square"]},"legend":null},"stroke":{"field":"s","type":"nominal","scale":{"domain":["s1","s2","s3","s4","s5"],"range":["#ff0000","#009a00","#0000ff","#ff00ff","#000000"]},"legend":null},"fill":{"field":"s","type":"nominal","scale":{"domain":["s1","s2","s3","s4","s5"],"range":["#ffffff","#ffffff","#ffffff","#ffffff","#000000"]},"legend":null}}},
  {"data":{"values":[{}]},"mark":{"type":"rule","strokeDash":[2,3],"strokeWidth":1.5,"color":"black"},"encoding":{"x":{"datum":0,"type":"quantitative","axis":{"orient":"bottom","values":[0.5,1,1.5,2],"labels":false,"domain":false,"grid":false,"tickSize":-9,"tickWidth":1.5,"tickColor":"black","title":null}},"x2":{"datum":2.5},"y":{"datum":1,"type":"quantitative","axis":{"orient":"left","values":[0.9,0.95,1],"labels":false,"domain":false,"grid":false,"tickSize":-10,"tickWidth":1.5,"tickColor":"black","title":null}}}},
  {"data":{"values":[{}]},"mark":{"type":"text","text":"ATLAS","fontSize":16,"fontWeight":"bold","fontStyle":"italic","align":"left","baseline":"middle"},"encoding":{"x":{"datum":0.07,"type":"quantitative","axis":{"orient":"bottom","values":[0.1,0.2,0.3,0.4,0.6,0.7,0.8,0.9,1.1,1.2,1.3,1.4,1.6,1.7,1.8,1.9,2.1,2.2,2.3,2.4],"labels":false,"domain":false,"grid":false,"tickSize":-4.5,"tickWidth":1.5,"tickColor":"black","title":null}},"y":{"datum":1.0275,"type":"quantitative","axis":{"orient":"left","values":[0.89,0.91,0.92,0.93,0.94,0.96,0.97,0.98,0.99,1.01,1.02,1.03],"labels":false,"domain":false,"grid":false,"tickSize":-5,"tickWidth":1.5,"tickColor":"black","title":null}}}},
  {"data":{"values":[{}]},"mark":{"type":"text","text":"Pb+Pb 5.02 TeV, 22 μb⁻¹","fontSize":17,"align":"left","baseline":"middle"},"encoding":{"x":{"datum":0.71,"type":"quantitative","axis":{"orient":"top","values":[0.5,1,1.5,2],"labels":false,"domain":false,"grid":false,"tickSize":-9,"tickWidth":1.5,"tickColor":"black","title":null}},"y":{"datum":1.0275,"type":"quantitative","axis":{"orient":"right","values":[0.9,0.95,1],"labels":false,"domain":false,"grid":false,"tickSize":-10,"tickWidth":1.5,"tickColor":"black","title":null}}}},
  {"data":{"values":[{}]},"mark":{"type":"text","text":"10-20%","fontSize":17,"align":"left","baseline":"middle"},"encoding":{"x":{"datum":0.365,"type":"quantitative","axis":{"orient":"top","values":[0.1,0.2,0.3,0.4,0.6,0.7,0.8,0.9,1.1,1.2,1.3,1.4,1.6,1.7,1.8,1.9,2.1,2.2,2.3,2.4],"labels":false,"domain":false,"grid":false,"tickSize":-4.5,"tickWidth":1.5,"tickColor":"black","title":null}},"y":{"datum":0.9436,"type":"quantitative","axis":{"orient":"right","values":[0.89,0.91,0.92,0.93,0.94,0.96,0.97,0.98,0.99,1.01,1.02,1.03],"labels":false,"domain":false,"grid":false,"tickSize":-5,"tickWidth":1.5,"tickColor":"black","title":null}}}},
  {"data":{"values":[]},"mark":{"type":"point","size":100,"strokeWidth":2.5,"opacity":1},"encoding":{
    "shape":{"field":"s","type":"nominal","scale":{"domain":["s1","s2","s3","s4","s5"],"range":["M-1.7,0H1.7M0.9,0A0.9,0.9,0,1,1,-0.9,0A0.9,0.9,0,1,1,0.9,0Z","M-1.7,0H1.7M-0.85,-0.85H0.85V0.85H-0.85Z","M-1.7,0H1.7M0,-1.1L0.6,0L0,1.1L-0.6,0Z","M-1.7,0H1.7M-0.33,-1H0.33V-0.33H1V0.33H0.33V1H-0.33V0.33H-1V-0.33H-0.33Z","M-1.7,0H1.7M-0.85,-0.85H0.85V0.85H-0.85Z"]},"legend":{"orient":"none","legendX":18,"legendY":199.5,"title":null,"labelExpr":"datum.label=='s1'?'0.5< pT <1.0 GeV':datum.label=='s2'?'1.0< pT <2.0 GeV':datum.label=='s3'?'2.0< pT <3.0 GeV':datum.label=='s4'?'3.0< pT <4.0 GeV':'0.5< pT <3.0 GeV'","labelFontSize":17,"labelColor":"black","labelLimit":300,"symbolSize":100,"symbolStrokeWidth":2.5,"symbolOffset":2,"labelOffset":4,"rowPadding":0}},
    "stroke":{"field":"s","type":"nominal","scale":{"domain":["s1","s2","s3","s4","s5"],"range":["#ff0000","#009a00","#0000ff","#ff00ff","#000000"]}},
    "fill":{"field":"s","type":"nominal","scale":{"domain":["s1","s2","s3","s4","s5"],"range":["#ffffff","#ffffff","#ffffff","#ffffff","#000000"]}}}}
 ]},
{"width":281,"height":311,"transform":[{"filter":"datum.c=='p5'"}],
 "resolve":{"scale":{"shape":"independent","stroke":"independent","fill":"independent"},"axis":{"x":"independent","y":"independent"}},
 "layer":[
  {"mark":{"type":"errorbar","thickness":2.5},"encoding":{"x":{"field":"x","type":"quantitative","scale":{"domain":[0,2.5],"nice":false,"zero":false},"axis":null},"y":{"field":"r","type":"quantitative","scale":{"domain":[0.88,1.04],"nice":false,"zero":false},"axis":null},"yError":{"field":"e"},"color":{"field":"s","type":"nominal","scale":{"domain":["s1","s2","s3","s4","s5"],"range":["#ff0000","#009a00","#0000ff","#ff00ff","#000000"]},"legend":null}}},
  {"mark":{"type":"point","size":80,"strokeWidth":1.8,"opacity":1},"encoding":{"x":{"field":"x","type":"quantitative","axis":{"orient":"bottom","values":[0,0.5,1,1.5,2],"format":"~g","ticks":false,"domain":false,"grid":false,"labelFontSize":18,"labelPadding":5,"labelFlush":false,"title":"η","titleFontSize":24,"titleFontWeight":"normal","titleAlign":"right","titleBaseline":"alphabetic","titleX":283,"titleY":31}},"y":{"field":"r","type":"quantitative","axis":{"orient":"left","values":[0.9,0.95,1],"format":"~g","ticks":false,"domain":false,"grid":false,"labelFontSize":18,"labelPadding":3,"title":"r","titleFontSize":26,"titleFontWeight":"normal","titleAngle":270,"titleAlign":"right","titleBaseline":"alphabetic","titleX":-33,"titleY":32}},"shape":{"field":"s","type":"nominal","scale":{"domain":["s1","s2","s3","s4","s5"],"range":["circle","square","M0,-1.1L0.6,0L0,1.1L-0.6,0Z","M-0.33,-1H0.33V-0.33H1V0.33H0.33V1H-0.33V0.33H-1V-0.33H-0.33Z","square"]},"legend":null},"stroke":{"field":"s","type":"nominal","scale":{"domain":["s1","s2","s3","s4","s5"],"range":["#ff0000","#009a00","#0000ff","#ff00ff","#000000"]},"legend":null},"fill":{"field":"s","type":"nominal","scale":{"domain":["s1","s2","s3","s4","s5"],"range":["#ffffff","#ffffff","#ffffff","#ffffff","#000000"]},"legend":null}}},
  {"data":{"values":[{}]},"mark":{"type":"rule","strokeDash":[2,3],"strokeWidth":1.5,"color":"black"},"encoding":{"x":{"datum":0,"type":"quantitative","axis":{"orient":"bottom","values":[0.5,1,1.5,2],"labels":false,"domain":false,"grid":false,"tickSize":-9,"tickWidth":1.5,"tickColor":"black","title":null}},"x2":{"datum":2.5},"y":{"datum":1,"type":"quantitative","axis":{"orient":"left","values":[0.9,0.95,1],"labels":false,"domain":false,"grid":false,"tickSize":-10,"tickWidth":1.5,"tickColor":"black","title":null}}}},
  {"data":{"values":[{}]},"mark":{"type":"text","text":"ATLAS","fontSize":16,"fontWeight":"bold","fontStyle":"italic","align":"left","baseline":"middle"},"encoding":{"x":{"datum":0.07,"type":"quantitative","axis":{"orient":"bottom","values":[0.1,0.2,0.3,0.4,0.6,0.7,0.8,0.9,1.1,1.2,1.3,1.4,1.6,1.7,1.8,1.9,2.1,2.2,2.3,2.4],"labels":false,"domain":false,"grid":false,"tickSize":-4.5,"tickWidth":1.5,"tickColor":"black","title":null}},"y":{"datum":1.025,"type":"quantitative","axis":{"orient":"left","values":[0.89,0.91,0.92,0.93,0.94,0.96,0.97,0.98,0.99,1.01,1.02,1.03],"labels":false,"domain":false,"grid":false,"tickSize":-5,"tickWidth":1.5,"tickColor":"black","title":"2|2;1","titleFontSize":13,"titleFontWeight":"normal","titleAngle":270,"titleAlign":"left","titleBaseline":"alphabetic","titleX":-26,"titleY":31}}}},
  {"data":{"values":[{}]},"mark":{"type":"text","text":"Pb+Pb 5.02 TeV, 22 μb⁻¹","fontSize":17,"align":"left","baseline":"middle"},"encoding":{"x":{"datum":0.71,"type":"quantitative","axis":{"orient":"top","values":[0.5,1,1.5,2],"labels":false,"domain":false,"grid":false,"tickSize":-9,"tickWidth":1.5,"tickColor":"black","title":null}},"y":{"datum":1.025,"type":"quantitative","axis":{"orient":"right","values":[0.9,0.95,1],"labels":false,"domain":false,"grid":false,"tickSize":-10,"tickWidth":1.5,"tickColor":"black","title":null}}}},
  {"data":{"values":[{}]},"mark":{"type":"text","text":"20-30%","fontSize":17,"align":"left","baseline":"middle"},"encoding":{"x":{"datum":0.4,"type":"quantitative","axis":{"orient":"top","values":[0.1,0.2,0.3,0.4,0.6,0.7,0.8,0.9,1.1,1.2,1.3,1.4,1.6,1.7,1.8,1.9,2.1,2.2,2.3,2.4],"labels":false,"domain":false,"grid":false,"tickSize":-4.5,"tickWidth":1.5,"tickColor":"black","title":null}},"y":{"datum":0.9552,"type":"quantitative","axis":{"orient":"right","values":[0.89,0.91,0.92,0.93,0.94,0.96,0.97,0.98,0.99,1.01,1.02,1.03],"labels":false,"domain":false,"grid":false,"tickSize":-5,"tickWidth":1.5,"tickColor":"black","title":null}}}},
  {"data":{"values":[]},"mark":{"type":"point","size":100,"strokeWidth":2.5,"opacity":1},"encoding":{
    "shape":{"field":"s","type":"nominal","scale":{"domain":["s1","s2","s3","s4","s5"],"range":["M-2.5,0H2.5M0.9,0A0.9,0.9,0,1,1,-0.9,0A0.9,0.9,0,1,1,0.9,0Z","M-2.5,0H2.5M-0.85,-0.85H0.85V0.85H-0.85Z","M-2.5,0H2.5M0,-1.1L0.6,0L0,1.1L-0.6,0Z","M-2.5,0H2.5M-0.33,-1H0.33V-0.33H1V0.33H0.33V1H-0.33V0.33H-1V-0.33H-0.33Z","M-2.5,0H2.5M-0.85,-0.85H0.85V0.85H-0.85Z"]},"legend":{"orient":"none","legendX":18,"legendY":182.5,"title":null,"labelExpr":"datum.label=='s1'?'0.5< pT <1.0 GeV':datum.label=='s2'?'1.0< pT <2.0 GeV':datum.label=='s3'?'2.0< pT <3.0 GeV':datum.label=='s4'?'3.0< pT <4.0 GeV':'0.5< pT <3.0 GeV'","labelFontSize":17,"labelColor":"black","labelLimit":300,"symbolSize":100,"symbolStrokeWidth":2.5,"symbolOffset":6,"labelOffset":4,"rowPadding":3.8}},
    "stroke":{"field":"s","type":"nominal","scale":{"domain":["s1","s2","s3","s4","s5"],"range":["#ff0000","#009a00","#0000ff","#ff00ff","#000000"]}},
    "fill":{"field":"s","type":"nominal","scale":{"domain":["s1","s2","s3","s4","s5"],"range":["#ffffff","#ffffff","#ffffff","#ffffff","#000000"]}}}}
 ]},
{"width":281,"height":311,"transform":[{"filter":"datum.c=='p6'"}],
 "resolve":{"scale":{"shape":"independent","stroke":"independent","fill":"independent"},"axis":{"x":"independent","y":"independent"}},
 "layer":[
  {"mark":{"type":"errorbar","thickness":2.5},"encoding":{"x":{"field":"x","type":"quantitative","scale":{"domain":[0,2.5],"nice":false,"zero":false},"axis":null},"y":{"field":"r","type":"quantitative","scale":{"domain":[0.88,1.04],"nice":false,"zero":false},"axis":null},"yError":{"field":"e"},"color":{"field":"s","type":"nominal","scale":{"domain":["s1","s2","s3","s4","s5"],"range":["#ff0000","#009a00","#0000ff","#ff00ff","#000000"]},"legend":null}}},
  {"mark":{"type":"point","size":80,"strokeWidth":1.8,"opacity":1},"encoding":{"x":{"field":"x","type":"quantitative","axis":{"orient":"bottom","values":[0,0.5,1,1.5,2],"format":"~g","ticks":false,"domain":false,"grid":false,"labelFontSize":18,"labelPadding":5,"labelFlush":false,"title":"η","titleFontSize":24,"titleFontWeight":"normal","titleAlign":"right","titleBaseline":"alphabetic","titleX":283,"titleY":31}},"y":{"field":"r","type":"quantitative","axis":null},"shape":{"field":"s","type":"nominal","scale":{"domain":["s1","s2","s3","s4","s5"],"range":["circle","square","M0,-1.1L0.6,0L0,1.1L-0.6,0Z","M-0.33,-1H0.33V-0.33H1V0.33H0.33V1H-0.33V0.33H-1V-0.33H-0.33Z","square"]},"legend":null},"stroke":{"field":"s","type":"nominal","scale":{"domain":["s1","s2","s3","s4","s5"],"range":["#ff0000","#009a00","#0000ff","#ff00ff","#000000"]},"legend":null},"fill":{"field":"s","type":"nominal","scale":{"domain":["s1","s2","s3","s4","s5"],"range":["#ffffff","#ffffff","#ffffff","#ffffff","#000000"]},"legend":null}}},
  {"data":{"values":[{}]},"mark":{"type":"rule","strokeDash":[2,3],"strokeWidth":1.5,"color":"black"},"encoding":{"x":{"datum":0,"type":"quantitative","axis":{"orient":"bottom","values":[0.5,1,1.5,2],"labels":false,"domain":false,"grid":false,"tickSize":-9,"tickWidth":1.5,"tickColor":"black","title":null}},"x2":{"datum":2.5},"y":{"datum":1,"type":"quantitative","axis":{"orient":"left","values":[0.9,0.95,1],"labels":false,"domain":false,"grid":false,"tickSize":-10,"tickWidth":1.5,"tickColor":"black","title":null}}}},
  {"data":{"values":[{}]},"mark":{"type":"text","text":"ATLAS","fontSize":16,"fontWeight":"bold","fontStyle":"italic","align":"left","baseline":"middle"},"encoding":{"x":{"datum":0.07,"type":"quantitative","axis":{"orient":"bottom","values":[0.1,0.2,0.3,0.4,0.6,0.7,0.8,0.9,1.1,1.2,1.3,1.4,1.6,1.7,1.8,1.9,2.1,2.2,2.3,2.4],"labels":false,"domain":false,"grid":false,"tickSize":-4.5,"tickWidth":1.5,"tickColor":"black","title":null}},"y":{"datum":1.025,"type":"quantitative","axis":{"orient":"left","values":[0.89,0.91,0.92,0.93,0.94,0.96,0.97,0.98,0.99,1.01,1.02,1.03],"labels":false,"domain":false,"grid":false,"tickSize":-5,"tickWidth":1.5,"tickColor":"black","title":null}}}},
  {"data":{"values":[{}]},"mark":{"type":"text","text":"Pb+Pb 5.02 TeV, 22 μb⁻¹","fontSize":17,"align":"left","baseline":"middle"},"encoding":{"x":{"datum":0.71,"type":"quantitative","axis":{"orient":"top","values":[0.5,1,1.5,2],"labels":false,"domain":false,"grid":false,"tickSize":-9,"tickWidth":1.5,"tickColor":"black","title":null}},"y":{"datum":1.025,"type":"quantitative","axis":{"orient":"right","values":[0.9,0.95,1],"labels":false,"domain":false,"grid":false,"tickSize":-10,"tickWidth":1.5,"tickColor":"black","title":null}}}},
  {"data":{"values":[{}]},"mark":{"type":"text","text":"30-40%","fontSize":17,"align":"left","baseline":"middle"},"encoding":{"x":{"datum":0.365,"type":"quantitative","axis":{"orient":"top","values":[0.1,0.2,0.3,0.4,0.6,0.7,0.8,0.9,1.1,1.2,1.3,1.4,1.6,1.7,1.8,1.9,2.1,2.2,2.3,2.4],"labels":false,"domain":false,"grid":false,"tickSize":-4.5,"tickWidth":1.5,"tickColor":"black","title":null}},"y":{"datum":0.9552,"type":"quantitative","axis":{"orient":"right","values":[0.89,0.91,0.92,0.93,0.94,0.96,0.97,0.98,0.99,1.01,1.02,1.03],"labels":false,"domain":false,"grid":false,"tickSize":-5,"tickWidth":1.5,"tickColor":"black","title":null}}}},
  {"data":{"values":[]},"mark":{"type":"point","size":100,"strokeWidth":2.5,"opacity":1},"encoding":{
    "shape":{"field":"s","type":"nominal","scale":{"domain":["s1","s2","s3","s4","s5"],"range":["M-1.7,0H1.7M0.9,0A0.9,0.9,0,1,1,-0.9,0A0.9,0.9,0,1,1,0.9,0Z","M-1.7,0H1.7M-0.85,-0.85H0.85V0.85H-0.85Z","M-1.7,0H1.7M0,-1.1L0.6,0L0,1.1L-0.6,0Z","M-1.7,0H1.7M-0.33,-1H0.33V-0.33H1V0.33H0.33V1H-0.33V0.33H-1V-0.33H-0.33Z","M-1.7,0H1.7M-0.85,-0.85H0.85V0.85H-0.85Z"]},"legend":{"orient":"none","legendX":18,"legendY":182.5,"title":null,"labelExpr":"datum.label=='s1'?'0.5< pT <1.0 GeV':datum.label=='s2'?'1.0< pT <2.0 GeV':datum.label=='s3'?'2.0< pT <3.0 GeV':datum.label=='s4'?'3.0< pT <4.0 GeV':'0.5< pT <3.0 GeV'","labelFontSize":17,"labelColor":"black","labelLimit":300,"symbolSize":100,"symbolStrokeWidth":2.5,"symbolOffset":2,"labelOffset":4,"rowPadding":3.8}},
    "stroke":{"field":"s","type":"nominal","scale":{"domain":["s1","s2","s3","s4","s5"],"range":["#ff0000","#009a00","#0000ff","#ff00ff","#000000"]}},
    "fill":{"field":"s","type":"nominal","scale":{"domain":["s1","s2","s3","s4","s5"],"range":["#ffffff","#ffffff","#ffffff","#ffffff","#000000"]}}}}
 ]},
{"width":281,"height":311,"transform":[{"filter":"datum.c=='p7'"}],
 "resolve":{"scale":{"shape":"independent","stroke":"independent","fill":"independent"},"axis":{"x":"independent","y":"independent"}},
 "layer":[
  {"mark":{"type":"errorbar","thickness":2.5},"encoding":{"x":{"field":"x","type":"quantitative","scale":{"domain":[0,2.5],"nice":false,"zero":false},"axis":null},"y":{"field":"r","type":"quantitative","scale":{"domain":[0.88,1.04],"nice":false,"zero":false},"axis":null},"yError":{"field":"e"},"color":{"field":"s","type":"nominal","scale":{"domain":["s1","s2","s3","s4","s5"],"range":["#ff0000","#009a00","#0000ff","#ff00ff","#000000"]},"legend":null}}},
  {"mark":{"type":"point","size":80,"strokeWidth":1.8,"opacity":1},"encoding":{"x":{"field":"x","type":"quantitative","axis":{"orient":"bottom","values":[0,0.5,1,1.5,2],"format":"~g","ticks":false,"domain":false,"grid":false,"labelFontSize":18,"labelPadding":5,"labelFlush":false,"title":"η","titleFontSize":24,"titleFontWeight":"normal","titleAlign":"right","titleBaseline":"alphabetic","titleX":283,"titleY":31}},"y":{"field":"r","type":"quantitative","axis":null},"shape":{"field":"s","type":"nominal","scale":{"domain":["s1","s2","s3","s4","s5"],"range":["circle","square","M0,-1.1L0.6,0L0,1.1L-0.6,0Z","M-0.33,-1H0.33V-0.33H1V0.33H0.33V1H-0.33V0.33H-1V-0.33H-0.33Z","square"]},"legend":null},"stroke":{"field":"s","type":"nominal","scale":{"domain":["s1","s2","s3","s4","s5"],"range":["#ff0000","#009a00","#0000ff","#ff00ff","#000000"]},"legend":null},"fill":{"field":"s","type":"nominal","scale":{"domain":["s1","s2","s3","s4","s5"],"range":["#ffffff","#ffffff","#ffffff","#ffffff","#000000"]},"legend":null}}},
  {"data":{"values":[{}]},"mark":{"type":"rule","strokeDash":[2,3],"strokeWidth":1.5,"color":"black"},"encoding":{"x":{"datum":0,"type":"quantitative","axis":{"orient":"bottom","values":[0.5,1,1.5,2],"labels":false,"domain":false,"grid":false,"tickSize":-9,"tickWidth":1.5,"tickColor":"black","title":null}},"x2":{"datum":2.5},"y":{"datum":1,"type":"quantitative","axis":{"orient":"left","values":[0.9,0.95,1],"labels":false,"domain":false,"grid":false,"tickSize":-10,"tickWidth":1.5,"tickColor":"black","title":null}}}},
  {"data":{"values":[{}]},"mark":{"type":"text","text":"ATLAS","fontSize":16,"fontWeight":"bold","fontStyle":"italic","align":"left","baseline":"middle"},"encoding":{"x":{"datum":0.07,"type":"quantitative","axis":{"orient":"bottom","values":[0.1,0.2,0.3,0.4,0.6,0.7,0.8,0.9,1.1,1.2,1.3,1.4,1.6,1.7,1.8,1.9,2.1,2.2,2.3,2.4],"labels":false,"domain":false,"grid":false,"tickSize":-4.5,"tickWidth":1.5,"tickColor":"black","title":null}},"y":{"datum":1.025,"type":"quantitative","axis":{"orient":"left","values":[0.89,0.91,0.92,0.93,0.94,0.96,0.97,0.98,0.99,1.01,1.02,1.03],"labels":false,"domain":false,"grid":false,"tickSize":-5,"tickWidth":1.5,"tickColor":"black","title":null}}}},
  {"data":{"values":[{}]},"mark":{"type":"text","text":"Pb+Pb 5.02 TeV, 22 μb⁻¹","fontSize":17,"align":"left","baseline":"middle"},"encoding":{"x":{"datum":0.71,"type":"quantitative","axis":{"orient":"top","values":[0.5,1,1.5,2],"labels":false,"domain":false,"grid":false,"tickSize":-9,"tickWidth":1.5,"tickColor":"black","title":null}},"y":{"datum":1.025,"type":"quantitative","axis":{"orient":"right","values":[0.9,0.95,1],"labels":false,"domain":false,"grid":false,"tickSize":-10,"tickWidth":1.5,"tickColor":"black","title":null}}}},
  {"data":{"values":[{}]},"mark":{"type":"text","text":"40-50%","fontSize":17,"align":"left","baseline":"middle"},"encoding":{"x":{"datum":0.365,"type":"quantitative","axis":{"orient":"top","values":[0.1,0.2,0.3,0.4,0.6,0.7,0.8,0.9,1.1,1.2,1.3,1.4,1.6,1.7,1.8,1.9,2.1,2.2,2.3,2.4],"labels":false,"domain":false,"grid":false,"tickSize":-4.5,"tickWidth":1.5,"tickColor":"black","title":null}},"y":{"datum":0.9552,"type":"quantitative","axis":{"orient":"right","values":[0.89,0.91,0.92,0.93,0.94,0.96,0.97,0.98,0.99,1.01,1.02,1.03],"labels":false,"domain":false,"grid":false,"tickSize":-5,"tickWidth":1.5,"tickColor":"black","title":null}}}},
  {"data":{"values":[]},"mark":{"type":"point","size":100,"strokeWidth":2.5,"opacity":1},"encoding":{
    "shape":{"field":"s","type":"nominal","scale":{"domain":["s1","s2","s3","s4","s5"],"range":["M-1.7,0H1.7M0.9,0A0.9,0.9,0,1,1,-0.9,0A0.9,0.9,0,1,1,0.9,0Z","M-1.7,0H1.7M-0.85,-0.85H0.85V0.85H-0.85Z","M-1.7,0H1.7M0,-1.1L0.6,0L0,1.1L-0.6,0Z","M-1.7,0H1.7M-0.33,-1H0.33V-0.33H1V0.33H0.33V1H-0.33V0.33H-1V-0.33H-0.33Z","M-1.7,0H1.7M-0.85,-0.85H0.85V0.85H-0.85Z"]},"legend":{"orient":"none","legendX":18,"legendY":182.5,"title":null,"labelExpr":"datum.label=='s1'?'0.5< pT <1.0 GeV':datum.label=='s2'?'1.0< pT <2.0 GeV':datum.label=='s3'?'2.0< pT <3.0 GeV':datum.label=='s4'?'3.0< pT <4.0 GeV':'0.5< pT <3.0 GeV'","labelFontSize":17,"labelColor":"black","labelLimit":300,"symbolSize":100,"symbolStrokeWidth":2.5,"symbolOffset":2,"labelOffset":4,"rowPadding":3.8}},
    "stroke":{"field":"s","type":"nominal","scale":{"domain":["s1","s2","s3","s4","s5"],"range":["#ff0000","#009a00","#0000ff","#ff00ff","#000000"]}},
    "fill":{"field":"s","type":"nominal","scale":{"domain":["s1","s2","s3","s4","s5"],"range":["#ffffff","#ffffff","#ffffff","#ffffff","#000000"]}}}}
 ]},
{"width":281,"height":311,"transform":[{"filter":"datum.c=='p8'"}],
 "resolve":{"scale":{"shape":"independent","stroke":"independent","fill":"independent"},"axis":{"x":"independent","y":"independent"}},
 "layer":[
  {"mark":{"type":"errorbar","thickness":2.5},"encoding":{"x":{"field":"x","type":"quantitative","scale":{"domain":[0,2.5],"nice":false,"zero":false},"axis":null},"y":{"field":"r","type":"quantitative","scale":{"domain":[0.88,1.04],"nice":false,"zero":false},"axis":null},"yError":{"field":"e"},"color":{"field":"s","type":"nominal","scale":{"domain":["s1","s2","s3","s4","s5"],"range":["#ff0000","#009a00","#0000ff","#ff00ff","#000000"]},"legend":null}}},
  {"mark":{"type":"point","size":80,"strokeWidth":1.8,"opacity":1},"encoding":{"x":{"field":"x","type":"quantitative","axis":{"orient":"bottom","values":[0,0.5,1,1.5,2],"format":"~g","ticks":false,"domain":false,"grid":false,"labelFontSize":18,"labelPadding":5,"labelFlush":false,"title":"η","titleFontSize":24,"titleFontWeight":"normal","titleAlign":"right","titleBaseline":"alphabetic","titleX":283,"titleY":31}},"y":{"field":"r","type":"quantitative","axis":null},"shape":{"field":"s","type":"nominal","scale":{"domain":["s1","s2","s3","s4","s5"],"range":["circle","square","M0,-1.1L0.6,0L0,1.1L-0.6,0Z","M-0.33,-1H0.33V-0.33H1V0.33H0.33V1H-0.33V0.33H-1V-0.33H-0.33Z","square"]},"legend":null},"stroke":{"field":"s","type":"nominal","scale":{"domain":["s1","s2","s3","s4","s5"],"range":["#ff0000","#009a00","#0000ff","#ff00ff","#000000"]},"legend":null},"fill":{"field":"s","type":"nominal","scale":{"domain":["s1","s2","s3","s4","s5"],"range":["#ffffff","#ffffff","#ffffff","#ffffff","#000000"]},"legend":null}}},
  {"data":{"values":[{}]},"mark":{"type":"rule","strokeDash":[2,3],"strokeWidth":1.5,"color":"black"},"encoding":{"x":{"datum":0,"type":"quantitative","axis":{"orient":"bottom","values":[0.5,1,1.5,2],"labels":false,"domain":false,"grid":false,"tickSize":-9,"tickWidth":1.5,"tickColor":"black","title":null}},"x2":{"datum":2.5},"y":{"datum":1,"type":"quantitative","axis":{"orient":"left","values":[0.9,0.95,1],"labels":false,"domain":false,"grid":false,"tickSize":-10,"tickWidth":1.5,"tickColor":"black","title":null}}}},
  {"data":{"values":[{}]},"mark":{"type":"text","text":"ATLAS","fontSize":16,"fontWeight":"bold","fontStyle":"italic","align":"left","baseline":"middle"},"encoding":{"x":{"datum":0.07,"type":"quantitative","axis":{"orient":"bottom","values":[0.1,0.2,0.3,0.4,0.6,0.7,0.8,0.9,1.1,1.2,1.3,1.4,1.6,1.7,1.8,1.9,2.1,2.2,2.3,2.4],"labels":false,"domain":false,"grid":false,"tickSize":-4.5,"tickWidth":1.5,"tickColor":"black","title":null}},"y":{"datum":1.025,"type":"quantitative","axis":{"orient":"left","values":[0.89,0.91,0.92,0.93,0.94,0.96,0.97,0.98,0.99,1.01,1.02,1.03],"labels":false,"domain":false,"grid":false,"tickSize":-5,"tickWidth":1.5,"tickColor":"black","title":null}}}},
  {"data":{"values":[{}]},"mark":{"type":"text","text":"Pb+Pb 5.02 TeV, 22 μb⁻¹","fontSize":17,"align":"left","baseline":"middle"},"encoding":{"x":{"datum":0.71,"type":"quantitative","axis":{"orient":"top","values":[0.5,1,1.5,2],"labels":false,"domain":false,"grid":false,"tickSize":-9,"tickWidth":1.5,"tickColor":"black","title":null}},"y":{"datum":1.025,"type":"quantitative","axis":{"orient":"right","values":[0.9,0.95,1],"labels":false,"domain":false,"grid":false,"tickSize":-10,"tickWidth":1.5,"tickColor":"black","title":null}}}},
  {"data":{"values":[{}]},"mark":{"type":"text","text":"50-60%","fontSize":17,"align":"left","baseline":"middle"},"encoding":{"x":{"datum":0.365,"type":"quantitative","axis":{"orient":"top","values":[0.1,0.2,0.3,0.4,0.6,0.7,0.8,0.9,1.1,1.2,1.3,1.4,1.6,1.7,1.8,1.9,2.1,2.2,2.3,2.4],"labels":false,"domain":false,"grid":false,"tickSize":-4.5,"tickWidth":1.5,"tickColor":"black","title":null}},"y":{"datum":0.9552,"type":"quantitative","axis":{"orient":"right","values":[0.89,0.91,0.92,0.93,0.94,0.96,0.97,0.98,0.99,1.01,1.02,1.03],"labels":false,"domain":false,"grid":false,"tickSize":-5,"tickWidth":1.5,"tickColor":"black","title":null}}}},
  {"data":{"values":[]},"mark":{"type":"point","size":100,"strokeWidth":2.5,"opacity":1},"encoding":{
    "shape":{"field":"s","type":"nominal","scale":{"domain":["s1","s2","s3","s4","s5"],"range":["M-1.7,0H1.7M0.9,0A0.9,0.9,0,1,1,-0.9,0A0.9,0.9,0,1,1,0.9,0Z","M-1.7,0H1.7M-0.85,-0.85H0.85V0.85H-0.85Z","M-1.7,0H1.7M0,-1.1L0.6,0L0,1.1L-0.6,0Z","M-1.7,0H1.7M-0.33,-1H0.33V-0.33H1V0.33H0.33V1H-0.33V0.33H-1V-0.33H-0.33Z","M-1.7,0H1.7M-0.85,-0.85H0.85V0.85H-0.85Z"]},"legend":{"orient":"none","legendX":18,"legendY":182.5,"title":null,"labelExpr":"datum.label=='s1'?'0.5< pT <1.0 GeV':datum.label=='s2'?'1.0< pT <2.0 GeV':datum.label=='s3'?'2.0< pT <3.0 GeV':datum.label=='s4'?'3.0< pT <4.0 GeV':'0.5< pT <3.0 GeV'","labelFontSize":17,"labelColor":"black","labelLimit":300,"symbolSize":100,"symbolStrokeWidth":2.5,"symbolOffset":2,"labelOffset":4,"rowPadding":3.8}},
    "stroke":{"field":"s","type":"nominal","scale":{"domain":["s1","s2","s3","s4","s5"],"range":["#ff0000","#009a00","#0000ff","#ff00ff","#000000"]}},
    "fill":{"field":"s","type":"nominal","scale":{"domain":["s1","s2","s3","s4","s5"],"range":["#ffffff","#ffffff","#ffffff","#ffffff","#000000"]}}}}
 ]}
],
"config":{"font":"Liberation Sans","view":{"stroke":"black","strokeWidth":2},"axis":{"grid":false,"labelFont":"Liberation Sans","titleFont":"Liberation Sans","labelColor":"black","titleColor":"black","tickColor":"black"},"legend":{"labelFont":"Liberation Sans"},"text":{"color":"black","font":"Liberation Sans"}}
}
